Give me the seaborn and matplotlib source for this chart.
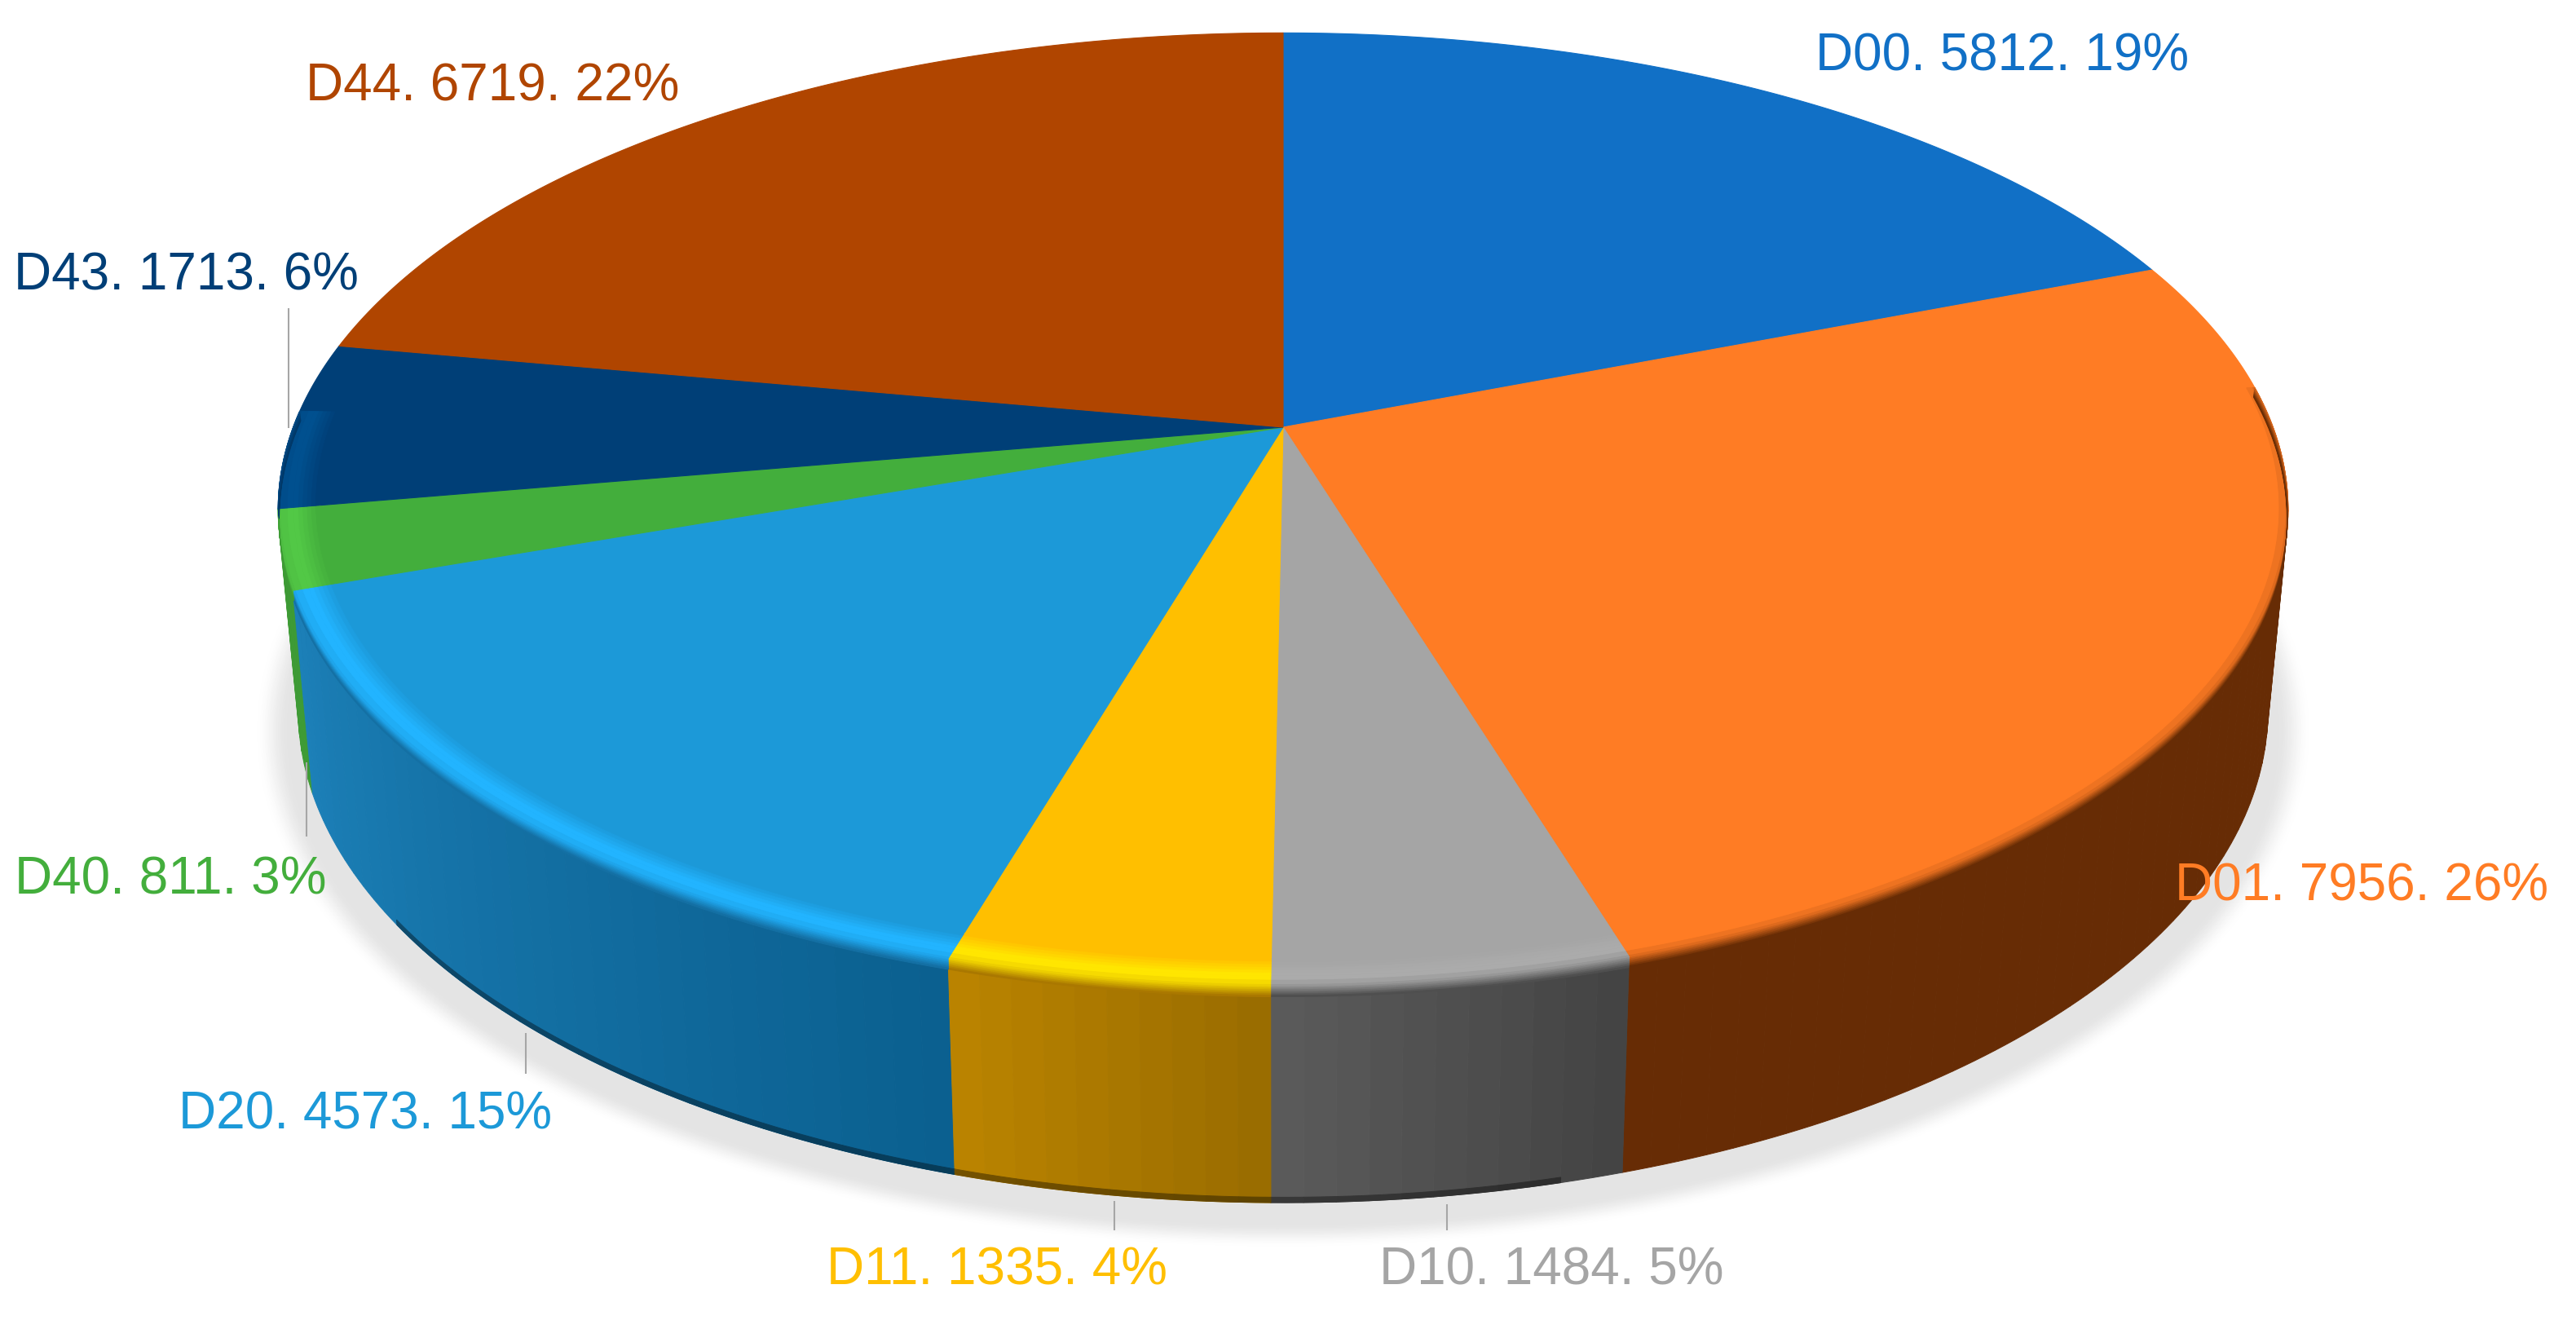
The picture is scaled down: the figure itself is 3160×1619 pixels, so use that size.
import numpy as np
import matplotlib
matplotlib.use('Agg')
import matplotlib.pyplot as plt
import matplotlib.colors as mcolors
import seaborn as sns

# values as printed on the labels
categories = ["D00", "D01", "D10", "D11", "D20", "D40", "D43", "D44"]
counts = [5812, 7956, 1484, 1335, 4573, 811, 1713, 6719]
percents = [19, 26, 5, 4, 15, 3, 6, 22]

face_colors = ["#1170C6", "#FF7C24", "#A5A5A5", "#FFBF00", "#1C99D8", "#43AE3C", "#003F77", "#B04500"]
rim_colors = ["#1170C6", "#FF7C24", "#ABABAB", "#FFE600", "#22B4FF", "#52C846", "#00508F", "#B04500"]
# wall shade at start and end of each slice, clockwise
wall_start = ["#0B4A82", "#672C05", "#444444", "#9A6D00", "#0B6090", "#3E9B35", "#003868", "#7A3000"]
wall_end = ["#0B4A82", "#672C05", "#5A5A5A", "#BA8300", "#1C80B8", "#3E9B35", "#003868", "#7A3000"]

# label anchor (centre left, pixels) and leader line (x, y0, y1)
label_pos = {"D00": (2227, 63), "D01": (2668, 1081), "D10": (1692, 1552), "D11": (1014, 1552),
             "D20": (219, 1361), "D40": (18, 1073), "D43": (17, 332), "D44": (375, 100)}
leaders = {"D43": (354, 378, 525), "D40": (376, 935, 1026), "D20": (645, 1267, 1317),
           "D11": (1367, 1473, 1509), "D10": (1775, 1477, 1509)}

W, H = 3160, 1619
CX, APEX_Y = 1574, 524
F, G, D = 7043.0, 3289.0, 5.8  # perspective of the top disc
TOP_CY, BOT_CY = 625, 871
BOT_SX, BOT_SY = 0.98, 1.034

sns.set_theme(style="white")
plt.rcParams['font.family'] = ['Liberation Sans', 'DejaVu Sans']


def top_point(theta, r=1.0):
    xw = r * np.sin(theta)
    yw = -r * np.cos(theta)
    return CX + F * xw / (D - yw), APEX_Y + G * yw / (D - yw)


def wall_point(theta, h):
    x, y = top_point(theta)
    xb = CX + BOT_SX * (x - CX)
    yb = BOT_CY + BOT_SY * (y - TOP_CY)
    return x + (xb - x) * h, y + (yb - y) * h


def rim_point(theta, s):
    # s < 0 runs inward on the face, s > 0 runs down the wall
    if s <= 0:
        return top_point(theta, 1 + s)
    return wall_point(theta, s)


def band(ax, t0, t1, p0, p1, color, fn, z):
    th = np.linspace(t0, t1, max(int(np.degrees(t1 - t0)) + 2, 3))
    xa, ya = fn(th, p0)
    xb, yb = fn(th, p1)
    ax.fill(np.r_[xa, xb[::-1]], np.r_[ya, yb[::-1]], color=color, lw=0.7, zorder=z)


fig = plt.figure(figsize=(W / 100, H / 100), dpi=100)
ax = fig.add_axes([0, 0, 1, 1])
ax.set_xlim(0, W)
ax.set_ylim(H, 0)
ax.axis('off')

fractions = np.array(counts) / np.sum(counts)
edges = np.r_[0, np.cumsum(fractions)] * 2 * np.pi
vis_lo, vis_hi = np.radians(85), np.radians(272)
dark_lo, dark_hi = np.radians(165), np.radians(235)

# soft shadow under the pie, light outer ring to solid inner
shadow = sns.blend_palette(["#FFFFFF", "#E4E4E4"], 24)
for i, c in enumerate(shadow):
    k = i / 23
    k = k * k * (3 - 2 * k)
    phi = np.linspace(0, 2 * np.pi, 240)
    grow = i / 23
    ax.fill(CX + (1262 - 42 * grow) * np.cos(phi), 897 + (634 - 30 * grow) * np.sin(phi),
            color=sns.blend_palette(["#FFFFFF", "#E4E4E4"], 101)[int(k * 100)], lw=0, zorder=1)

# walls, drawn back to front
strips = []
for i, cat in enumerate(categories):
    t0, t1 = max(edges[i], vis_lo), min(edges[i + 1], vis_hi)
    if t1 <= t0:
        continue
    n = max(int(np.degrees(t1 - t0) / 1.5), 1)
    shades = sns.blend_palette([wall_start[i], wall_end[i]], n)
    ts = np.linspace(t0, t1, n + 1)
    for j in range(n):
        strips.append((ts[j], ts[j + 1], shades[j]))
strips.sort(key=lambda s: -np.cos(s[0]))
for a, b, c in strips:
    band(ax, a, b, 0.0, 1.0, c, wall_point, 2)
    if dark_lo <= a <= dark_hi:
        band(ax, a, b, 0.975, 1.0, tuple(np.array(c) * 0.62), wall_point, 2.1)

# top faces
for i, cat in enumerate(categories):
    th = np.linspace(edges[i], edges[i + 1], max(int(np.degrees(edges[i + 1] - edges[i])) * 2, 3))
    x, y = top_point(th)
    ax.fill(np.r_[CX, x], np.r_[APEX_Y, y], color=face_colors[i], lw=0.8, zorder=3)

# rounded rim between face and wall
rim_fn = np.vectorize(rim_point)
for i, cat in enumerate(categories):
    t0, t1 = max(edges[i], vis_lo), min(edges[i + 1], vis_hi)
    if t1 <= t0:
        continue
    mid_wall = mcolors.to_hex(sns.blend_palette([wall_start[i], wall_end[i]], 3)[1])
    inner = sns.blend_palette([face_colors[i], rim_colors[i]], 6)
    outer = sns.blend_palette([rim_colors[i], mid_wall], 10)
    stops = np.r_[np.linspace(-0.04, -0.015, 7), np.linspace(-0.015, 0.05, 11)[1:]]
    shades = list(inner) + list(outer)
    for j in range(len(stops) - 1):
        if stops[j] < 0 < stops[j + 1]:
            band(ax, t0, t1, stops[j], 0.0, shades[j], rim_fn, 4)
            band(ax, t0, t1, 0.0, stops[j + 1], shades[j], rim_fn, 4)
        else:
            band(ax, t0, t1, stops[j], stops[j + 1], shades[j], rim_fn, 4)

# leader lines
for cat, (x, y0, y1) in leaders.items():
    ax.plot([x, x], [y0, y1], color="#A6A6A6", lw=1.5, zorder=5, solid_capstyle='butt')

# labels
for i, cat in enumerate(categories):
    x, y = label_pos[cat]
    ax.text(x, y, f"{cat}. {counts[i]}. {percents[i]}%", color=face_colors[i], fontsize=46,
            ha='left', va='center_baseline', zorder=6)

plt.savefig('out.png', dpi=100)
plt.close()
